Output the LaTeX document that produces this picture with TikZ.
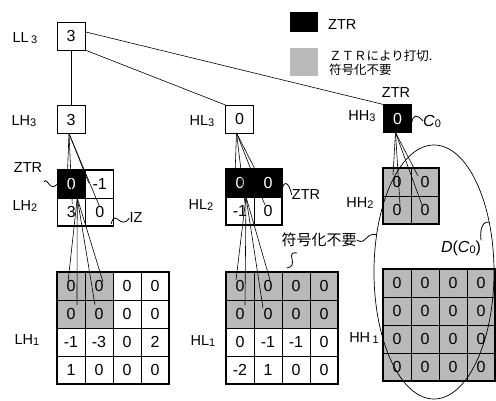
\documentclass[tikz,border=0pt]{standalone}
\usepackage{fontspec}
\setmainfont{Liberation Sans}
\newfontfamily\jpfont{Noto Sans CJK JP}
\usetikzlibrary{calc,shapes.geometric}
\newcommand\lsub[1]{\raisebox{-1pt}{\fontsize{11}{11}\selectfont #1}}
\begin{document}
\begin{tikzpicture}[x=1pt,y=-1pt,
  cell/.style={draw, line width=0.7pt, minimum size=28pt, inner sep=0pt, outer sep=0pt, font=\fontsize{16}{16}\selectfont},
  zc/.style={cell, fill=black, text=white},
  gc/.style={cell, fill=gray!55},
  lbl/.style={font=\fontsize{14.5}{14.5}\selectfont, inner sep=0pt},
  tree/.style={line width=0.6pt},
  sq/.style={line width=0.8pt},
  frame/.style={line width=1.2pt}
]
\useasboundingbox (0,0) rectangle (496,401);

% ---------- level 3 ----------
\node[cell] (ll3) at (71,36) {3};
\node[cell] (lh3) at (71,119.5) {3};
\node[cell] (hl3) at (239.5,119) {0};
\node[zc]   (hh3) at (397.5,118.5) {0};

\node[lbl] (t-ll3) at (25,38) {LL\,\lsub{3}};
\node[lbl] (t-lh3) at (24,121) {LH\lsub{3}};
\node[lbl] (t-hl3) at (202,121) {HL\lsub{3}};
\node[lbl] (t-hh3) at (362,116) {HH\lsub{3}};
\node[lbl] (t-ztr3) at (396,93) {ZTR};

% ---------- level 2 ----------
\node[zc]   (lh2-11) at (71.25,184) {0};
\node[cell] (lh2-12) at (99.75,184) {-1};
\node[cell] (lh2-21) at (71.25,212) {3};
\node[cell] (lh2-22) at (99.75,212) {0};
\draw[frame] (lh2-11.north west) rectangle (lh2-22.south east);

\node[zc]   (hl2-11) at (240,183) {0};
\node[zc]   (hl2-12) at (268,183) {0};
\node[cell] (hl2-21) at (240,211) {-1};
\node[cell] (hl2-22) at (268,211) {0};
\draw[frame] (hl2-11.north west) rectangle (hl2-22.south east);

\node[gc] (hh2-11) at (397,182) {0};
\node[gc] (hh2-12) at (425,182) {0};
\node[gc] (hh2-21) at (397,210) {0};
\node[gc] (hh2-22) at (425,210) {0};
\draw[frame] (hh2-11.north west) rectangle (hh2-22.south east);

\node[lbl] (t-lh2) at (25,206) {LH\lsub{2}};
\node[lbl] (t-hl2) at (201,205) {HL\lsub{2}};
\node[lbl] (t-hh2) at (360,203) {HH\lsub{2}};
\node[lbl] (t-ztrl) at (28,168) {ZTR};
\node[lbl] (t-iz) at (136,218) {IZ};
\node[lbl] (t-ztrh) at (306,195) {ZTR};

% ---------- level 1 ----------
% LH1
\foreach \v [count=\c] in {0,0} \node[gc] (lh1-1-\c) at ({43+28*\c},286) {\v};
\foreach \v [count=\c from 3] in {0,0} \node[cell] (lh1-1-\c) at ({43+28*\c},286) {\v};
\foreach \v [count=\c] in {0,0} \node[gc] (lh1-2-\c) at ({43+28*\c},314) {\v};
\foreach \v [count=\c from 3] in {0,0} \node[cell] (lh1-2-\c) at ({43+28*\c},314) {\v};
\foreach \v [count=\c] in {-1,-3,0,2} \node[cell] (lh1-3-\c) at ({43+28*\c},342) {\v};
\foreach \v [count=\c] in {1,0,0,0} \node[cell] (lh1-4-\c) at ({43+28*\c},370) {\v};
\draw[frame] (lh1-1-1.north west) rectangle (lh1-4-4.south east);

% HL1
\foreach \v [count=\c] in {0,0,0,0} \node[gc] (hl1-1-\c) at ({212+28*\c},286) {\v};
\foreach \v [count=\c] in {0,0,0,0} \node[gc] (hl1-2-\c) at ({212+28*\c},314) {\v};
\foreach \v [count=\c] in {0,-1,-1,0} \node[cell] (hl1-3-\c) at ({212+28*\c},342) {\v};
\foreach \v [count=\c] in {-2,1,0,0} \node[cell] (hl1-4-\c) at ({212+28*\c},370) {\v};
\draw[frame] (hl1-1-1.north west) rectangle (hl1-4-4.south east);

% HH1
\foreach \r in {1,2,3,4}
  \foreach \c in {1,2,3,4}
    \node[gc] (hh1-\r-\c) at ({369+28*\c},{255+28*\r}) {0};
\draw[frame] (hh1-1-1.north west) rectangle (hh1-4-4.south east);

\node[lbl] (t-lh1) at (27,340) {LH\lsub{1}};
\node[lbl] (t-hl1) at (203,341) {HL\lsub{1}};
\node[lbl] (t-hh1) at (364,338) {HH\,\lsub{1}};

% ---------- tree connectors ----------
\draw[tree] (ll3.south) -- (lh3.north);
\draw[tree] (ll3.south east) -- (hl3.north west);
\draw[tree] ($(ll3.north east)!0.35!(ll3.south east)$) -- (hh3.north west);

\foreach \n/\dx/\dy in {lh2-11/-4/-6, lh2-12/-11/-1, lh2-21/1/-8, lh2-22/0/-5}
  \draw[tree] ($(lh3.south)+(-2,0)$) -- ($(\n.center)+(\dx,\dy)$);
\foreach \n/\dx/\dy in {lh1-1-1/-3/-4, lh1-1-2/4/-4, lh1-2-1/6/-9, lh1-2-2/-4/-9}
  \draw[tree] ($(lh2-11.south)+(6,0)$) -- ($(\n.center)+(\dx,\dy)$);

\foreach \n/\dx/\dy in {hl2-11/-5/-8, hl2-12/-9/-6, hl2-21/5/-8, hl2-22/-3/-6}
  \draw[tree] ($(hl3.south)+(-3,0)$) -- ($(\n.center)+(\dx,\dy)$);
\foreach \n/\dx/\dy in {hl1-1-1/-4/-6, hl1-1-2/2/-6, hl1-2-1/5/-9, hl1-2-2/-5/-6}
  \draw[tree] ($(hl2-11.south)+(6,0)$) -- ($(\n.center)+(\dx,\dy)$);

\foreach \n/\dx/\dy in {hh2-11/-4/-7, hh2-12/-7/-6, hh2-21/3/-5, hh2-22/-3/-5}
  \draw[tree] ($(hh3.south)+(-2,0)$) -- ($(\n.center)+(\dx,\dy)$);

% ---------- descendant set ----------
\node[draw, ellipse, line width=0.7pt, minimum width=120pt, minimum height=254pt, inner sep=0pt, outer sep=0pt] (dset) at (434,272) {};
\node[lbl, font=\fontsize{16}{16}\selectfont] (t-dc0) at (461,248) {\textit{D}(\textit{C}\lsub{0})};
\node[lbl, font=\fontsize{16}{16}\selectfont] (t-c0) at (432,121) {\textit{C}\lsub{0}};
\node[lbl, font=\jpfont\fontsize{15}{15}\selectfont] (t-fugo) at (319,240) {符号化不要};

% ---------- leader squiggles ----------
\draw[sq] (44,182) .. controls (47,176) and (50,193) .. (lh2-11.west);
\draw[sq] (111,224) .. controls (116,208) and (120,231) .. (t-iz.west);
\draw[sq] (282,191) .. controls (283,180) and (289,181) .. (t-ztrh.west);
\draw[sq] ($(hh3.east)+(0,5)$) .. controls (413,114) and (417,114) .. (t-c0.west);
\draw[sq] (t-dc0.north east) .. controls (480,237) and (480,220) .. (dset.42);
\draw[sq] (t-fugo.east) .. controls (366,246) and (365,232) .. (dset.147);
\draw[sq] (297,253) .. controls (284,251) and (300,266) .. (287,268);

% ---------- legend ----------
\node[fill=black, minimum width=28pt, minimum height=20pt, inner sep=0pt] (leg-z) at (304,22) {};
\node[lbl, anchor=west] (leg-zt) at (328,25) {ZTR};
\node[fill=gray!55, minimum width=28pt, minimum height=28pt, inner sep=0pt] (leg-g) at (304,62) {};
\node[anchor=west, align=left, inner sep=0pt, font=\jpfont\fontsize{12.5}{13.5}\selectfont] (leg-gt) at (329,63) {ＺＴＲにより打切.\\符号化不要};
\end{tikzpicture}
\end{document}
